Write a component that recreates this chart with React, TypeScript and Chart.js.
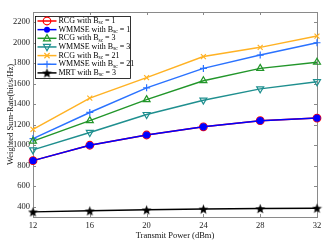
import React, { useEffect, useRef } from 'react';
import { Chart, registerables } from 'chart.js';
Chart.register(...registerables);

const powers = [12, 16, 20, 24, 28, 32];
const rcg1 = [850, 1000, 1100, 1180, 1240, 1265];
const wmmse1 = [850, 1000, 1100, 1180, 1240, 1265];
const rcg3 = [1040, 1240, 1445, 1630, 1750, 1810];
const wmmse3 = [955, 1125, 1300, 1440, 1550, 1620];
const rcg21 = [1155, 1460, 1660, 1865, 1955, 2065];
const wmmse21 = [1065, 1320, 1560, 1750, 1880, 2000];
const mrt = [350, 360, 370, 378, 382, 386];

const yTicks = [400, 600, 800, 1000, 1200, 1400, 1600, 1800, 2000, 2200];
const legendPrefix = ['RCG with B', 'WMMSE with B', 'RCG with B', 'WMMSE with B', 'RCG with B', 'WMMSE with B', 'MRT with B'];
const legendSuffix = [' = 1', ' = 1', ' = 3', ' = 3', ' = 21', ' = 21', ' = 3'];

const FONT = '"Liberation Serif", "Times New Roman", serif';

function makeStar(size: number, color: string) {
  const c = document.createElement('canvas');
  c.width = size; c.height = size;
  const g = c.getContext('2d')!;
  const cx = size / 2, cy = size / 2 + 0.5, R = size / 2 - 0.3, r = R * 0.42;
  g.beginPath();
  for (let i = 0; i < 10; i++) {
    const rad = i % 2 === 0 ? R : r;
    const a = -Math.PI / 2 + (i * Math.PI) / 5;
    const px = cx + rad * Math.cos(a), py = cy + rad * Math.sin(a);
    if (i === 0) g.moveTo(px, py); else g.lineTo(px, py);
  }
  g.closePath();
  g.fillStyle = color; g.fill();
  return c;
}

type Style = { color: string; marker: string; fill: boolean; rot?: number };
const styles: Style[] = [
  { color: '#ff0000', marker: 'circle', fill: false },
  { color: '#0000ff', marker: 'circle', fill: true },
  { color: '#22962a', marker: 'triangle', fill: false },
  { color: '#1f8f8f', marker: 'triangle', fill: false, rot: 180 },
  { color: '#ffb224', marker: 'crossRot', fill: false },
  { color: '#2a72ff', marker: 'cross', fill: false },
  { color: '#000000', marker: 'star', fill: true },
];

function drawMarker(ctx: CanvasRenderingContext2D, s: Style, x: number, y: number, star: HTMLCanvasElement) {
  ctx.save();
  ctx.strokeStyle = s.color; ctx.fillStyle = s.color; ctx.lineWidth = 1.2;
  const r = 3.5;
  if (s.marker === 'star') {
    ctx.drawImage(star, x - star.width / 2, y - star.height / 2);
  } else if (s.marker === 'circle') {
    ctx.beginPath(); ctx.arc(x, y, s.fill ? 3 : 3.8, 0, Math.PI * 2);
    if (s.fill) ctx.fill(); else ctx.stroke();
  } else if (s.marker === 'triangle') {
    const d = s.rot ? -1 : 1;
    ctx.beginPath();
    ctx.moveTo(x, y - d * r * 1.1);
    ctx.lineTo(x - r, y + d * r * 0.75);
    ctx.lineTo(x + r, y + d * r * 0.75);
    ctx.closePath(); ctx.stroke();
  } else if (s.marker === 'cross') {
    ctx.beginPath(); ctx.moveTo(x - r, y); ctx.lineTo(x + r, y); ctx.moveTo(x, y - r); ctx.lineTo(x, y + r); ctx.stroke();
  } else if (s.marker === 'crossRot') {
    const q = r * 0.75;
    ctx.beginPath(); ctx.moveTo(x - q, y - q); ctx.lineTo(x + q, y + q); ctx.moveTo(x - q, y + q); ctx.lineTo(x + q, y - q); ctx.stroke();
  }
  ctx.restore();
}

export default function App() {
  const ref = useRef<HTMLCanvasElement>(null);
  useEffect(() => {
    const star = makeStar(11, '#000000');
    const seriesData = [rcg1, wmmse1, rcg3, wmmse3, rcg21, wmmse21, mrt];
    const orders = [2, 1, 3, 4, 5, 6, 7];
    const datasets = seriesData.map((arr, i) => {
      const s = styles[i];
      const ps: any = s.marker === 'star' ? star : s.marker;
      return {
        label: legendPrefix[i] + 'sc' + legendSuffix[i],
        data: powers.map((p, k) => ({ x: p, y: arr[k] })),
        borderColor: s.color,
        backgroundColor: s.fill ? s.color : 'rgba(0,0,0,0)',
        pointBorderColor: s.color,
        pointBackgroundColor: s.fill ? s.color : 'rgba(0,0,0,0)',
        pointStyle: ps,
        pointRotation: s.rot || 0,
        pointRadius: s.marker === 'circle' ? (s.fill ? 3 : 3.8) : s.marker === 'triangle' ? 4 : 3.5,
        pointBorderWidth: 1.2,
        borderWidth: 1.5,
        tension: 0,
        clip: false as any,
        order: orders[i],
      };
    });

    const frame = {
      id: 'frame',
      beforeDatasetsDraw(chart: any) {
        const { ctx, chartArea } = chart;
        const { left, right, top, bottom } = chartArea;
        const xs = chart.scales.x, ys = chart.scales.y;
        ctx.save();
        ctx.strokeStyle = '#8a8a8a'; ctx.lineWidth = 1;
        ctx.strokeRect(Math.round(left) + 0.5, Math.round(top) + 0.5, Math.round(right - left), Math.round(bottom - top));
        ctx.beginPath();
        powers.forEach((p) => {
          const px = Math.round(xs.getPixelForValue(p)) + 0.5;
          ctx.moveTo(px, bottom); ctx.lineTo(px, bottom - 3);
          ctx.moveTo(px, top); ctx.lineTo(px, top + 3);
        });
        yTicks.forEach((v) => {
          const py = Math.round(ys.getPixelForValue(v)) + 0.5;
          ctx.moveTo(left, py); ctx.lineTo(left + 3, py);
          ctx.moveTo(right, py); ctx.lineTo(right - 3, py);
        });
        ctx.stroke();
        ctx.restore();
      },
      afterDatasetsDraw(chart: any) {
        const { ctx, chartArea } = chart;
        const bx = Math.round(chartArea.left) + 2.5, by = 16.5, bw = 95, bh = 62;
        ctx.save();
        ctx.fillStyle = '#ffffff';
        ctx.fillRect(bx, by, bw, bh);
        ctx.strokeStyle = '#000000'; ctx.lineWidth = 0.8;
        ctx.strokeRect(bx, by, bw, bh);
        for (let i = 0; i < 7; i++) {
          const yy = by + 4.5 + i * 8.65;
          const s = styles[i];
          ctx.strokeStyle = s.color; ctx.lineWidth = 1.5;
          ctx.beginPath(); ctx.moveTo(bx + 2, yy); ctx.lineTo(bx + 21, yy); ctx.stroke();
          drawMarker(ctx, s, bx + 11.5, yy, star);
          ctx.fillStyle = '#000000';
          ctx.textBaseline = 'middle';
          ctx.font = `8px ${FONT}`;
          let tx = bx + 23;
          ctx.fillText(legendPrefix[i], tx, yy);
          tx += ctx.measureText(legendPrefix[i]).width;
          ctx.font = `5.5px ${FONT}`;
          ctx.fillText('sc', tx, yy + 2);
          tx += ctx.measureText('sc').width;
          ctx.font = `8px ${FONT}`;
          ctx.fillText(legendSuffix[i], tx, yy);
        }
        ctx.restore();
      },
    };

    const chart = new Chart(ref.current!, {
      type: 'line',
      data: { datasets: datasets as any },
      options: {
        animation: false,
        responsive: false,
        maintainAspectRatio: false,
        layout: { padding: { top: 12, right: 17, left: 0, bottom: 0 } },
        plugins: { legend: { display: false }, tooltip: { enabled: false } },
        scales: {
          x: {
            type: 'linear', min: 12, max: 32,
            grid: { display: false, drawTicks: false, tickLength: 0 },
            border: { display: false },
            afterBuildTicks: (s: any) => { s.ticks = powers.map((v) => ({ value: v })); },
            afterFit: (s: any) => { s.height = 24; },
            ticks: { color: '#222', font: { family: FONT, size: 8.5 }, padding: 4, maxRotation: 0, callback: (v: any) => String(v) },
            title: { display: true, text: 'Transmit Power (dBm)', color: '#111', font: { family: FONT, size: 8.5 }, padding: { top: 0, bottom: 0 } },
          },
          y: {
            type: 'linear', min: 300, max: 2300,
            grid: { display: false, drawTicks: false, tickLength: 0 },
            border: { display: false },
            afterBuildTicks: (s: any) => { s.ticks = yTicks.map((v) => ({ value: v })); },
            afterFit: (s: any) => { s.width = 33; },
            ticks: { color: '#222', font: { family: FONT, size: 8.5 }, padding: 3, callback: (v: any) => String(v) },
            title: { display: true, text: 'Weighted Sum-Rate(bit/s/Hz)', color: '#111', font: { family: FONT, size: 8.5 }, padding: { top: 6, bottom: 0 } },
          },
        },
      },
      plugins: [frame],
    });
    return () => chart.destroy();
  }, []);
  return (
    <div style={{ position: 'fixed', left: 0, top: 0, width: 334, height: 241, background: '#fff' }}>
      <canvas ref={ref} width={334} height={241} style={{ width: 334, height: 241 }} />
    </div>
  );
}
